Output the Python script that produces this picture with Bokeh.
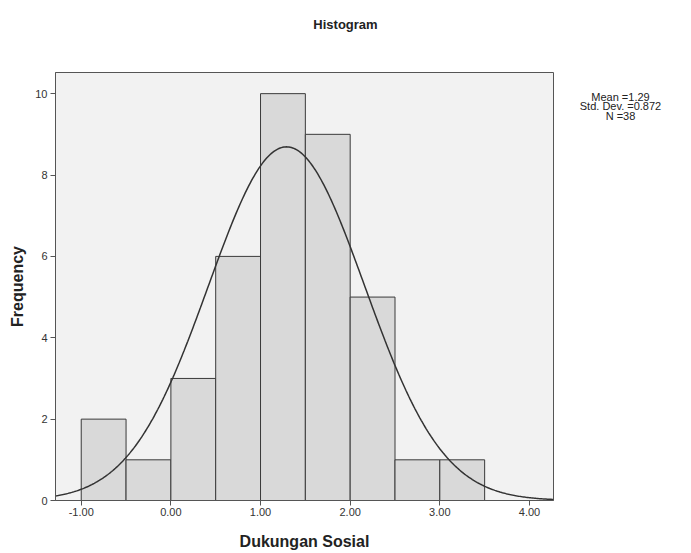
import numpy as np
from bokeh.plotting import figure
from bokeh.layouts import column, row
from bokeh.models import FixedTicker, NumeralTickFormatter, ColumnDataSource
from bokeh.core.properties import value
from bokeh.embed import file_html
from bokeh.resources import INLINE

# data
bin_left = [-1.0, -0.5, 0.0, 0.5, 1.0, 1.5, 2.0, 2.5, 3.0]
bin_right = [-0.5, 0.0, 0.5, 1.0, 1.5, 2.0, 2.5, 3.0, 3.5]
counts = [2, 1, 3, 6, 10, 9, 5, 1, 1]
mean = 1.29
std_dev = 0.872
n_obs = 38
bin_width = 0.5
x_ticks = [-1, 0, 1, 2, 3, 4]
y_ticks = [0, 2, 4, 6, 8, 10]
title_text = "Histogram"
stats_text = ["Mean =%.2f" % mean, "Std. Dev. =%.3f" % std_dev, "N =%d" % n_obs]

FONT = "Liberation Sans"


def blank_fig(w, h):
    f = figure(output_backend="svg", toolbar_location=None,
               x_range=(0, w), y_range=(0, h), x_axis_type=None, y_axis_type=None,
               min_border=0)
    f.frame_width = w
    f.frame_height = h
    f.outline_line_color = None
    f.background_fill_color = "white"
    f.border_fill_color = "white"
    f.xgrid.visible = False
    f.ygrid.visible = False
    return f


# title strip
pt = blank_fig(680, 60)
pt.text(x=[345], y=[36], text=[title_text], text_align="center", text_baseline="middle",
        text_font=value(FONT), text_font_size="13px", text_font_style="bold",
        text_color="#222222")

# main histogram
p = figure(output_backend="svg", toolbar_location=None,
           x_range=(-1.287, 4.268), y_range=(0, 10.52))
p.frame_width = 498
p.frame_height = 428
p.min_border_left = 55
p.min_border_top = 12
p.min_border_right = 5
p.min_border_bottom = 40
p.background_fill_color = "#f2f2f2"
p.border_fill_color = "white"
p.outline_line_color = "#555555"
p.outline_line_width = 1
p.xgrid.visible = False
p.ygrid.visible = False

src = ColumnDataSource(dict(left=bin_left, right=bin_right, top=counts, bottom=[0] * len(counts)))
p.quad(left="left", right="right", top="top", bottom="bottom", source=src,
       fill_color="#d9d9d9", line_color="#3a3a3a", line_width=1)

xs = np.linspace(-1.287, 4.268, 400)
ys = n_obs * bin_width * np.exp(-0.5 * ((xs - mean) / std_dev) ** 2) / (std_dev * np.sqrt(2 * np.pi))
p.line(xs, ys, line_color="#333333", line_width=1.5)

for ax in (p.xaxis[0], p.yaxis[0]):
    ax.axis_line_color = "#555555"
    ax.major_tick_line_color = "#555555"
    ax.major_tick_out = 5
    ax.major_tick_in = 0
    ax.minor_tick_line_color = None
    ax.major_label_text_font = FONT
    ax.major_label_text_font_size = "11px"
    ax.major_label_text_color = "#333333"
    ax.axis_label_text_font = FONT
    ax.axis_label_text_font_size = "16px"
    ax.axis_label_text_font_style = "bold"
    ax.axis_label_text_color = "#222222"

p.xaxis.ticker = FixedTicker(ticks=x_ticks)
p.xaxis.formatter = NumeralTickFormatter(format="0.00")
p.yaxis.ticker = FixedTicker(ticks=y_ticks)
p.xaxis.axis_label = "Dukungan Sosial"
p.yaxis.axis_label = "Frequency"
p.xaxis.major_label_standoff = 2
p.xaxis.axis_label_standoff = 14
p.yaxis.major_label_standoff = 3
p.yaxis.axis_label_standoff = 6

# statistics box at the right
ps = blank_fig(130, 100)
ps.text(x=[62, 62, 62], y=[76, 66.3, 56.6], text=stats_text, text_align="center",
        text_baseline="middle", text_font=value(FONT), text_font_size="11px",
        text_color="#222222")

layout = column(pt, row(p, ps, spacing=0), spacing=0)
open("out.html", "w").write(file_html(layout, INLINE))
